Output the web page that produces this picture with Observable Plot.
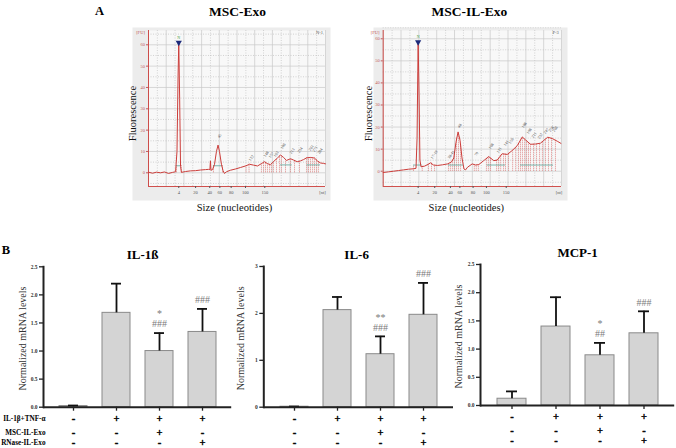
<!DOCTYPE html>
<html><head><meta charset="utf-8">
<script src="https://cdn.jsdelivr.net/npm/d3@7"></script>
<script src="https://cdn.jsdelivr.net/npm/@observablehq/plot@0.6"></script>
<style>
body{margin:0;background:#fff;}
#fig{position:relative;width:676px;height:448px;overflow:hidden;background:#fff;}
.panel{position:absolute;}
.panel svg{overflow:visible;display:block;}
</style></head><body><div id="fig"></div>
<script>
// ---------- Panel A: electropherograms ----------
const ladderLabels = ["4","20","40","60","80","100","150"];
const ladderTimeExo = [17.1, 26.6, 34.6, 40.3, 46.7, 54.8, 65.7];
const ladderTimeIL  = [19.6, 28.9, 37.7, 43.0, 50.4, 57.9, 69.0];
const fuTicks = [0, 10, 20, 30, 40, 50, 60];

const timeExo = [0,2.3,4.5,6.8,9,11.3,13.6,15.3,16.1,16.7,17.1,17.6,18.1,18.6,20.9,23.7,26.6,29.4,32.2,33.9,34.7,35,35.3,36.2,37.3,38.4,39.3,40.1,41.2,42.1,42.9,44.1,46.3,49.2,52,54.8,57.1,59.3,61.6,63.8,65.5,67.2,68.9,70.6,72.9,74.6,76.3,78,80.2,81.9,84,85.9,87.6,89.3,91.5,93.8,95.5,97.2,98.9,100];
const fuExo   = [0.3,-0.2,0.3,0,0.4,-0.3,0.2,0.5,10,45,61,35,3,0.2,0.6,0.9,1,1.3,1.5,1.6,1.5,5.6,1.2,1.5,4,10,13,10,4,1,-0.3,0.5,1.2,1.8,2.5,3.2,4,3.6,3.2,4.3,5.2,4.3,3.8,5.2,7,8.3,7.2,5.8,6.6,6,5.2,5.6,6.2,7,7.2,6.9,5.5,4.6,4.4,4.2];

const timeIL = [0,3,5.8,8.6,11.4,14.2,17,18.4,19,19.4,19.6,20.1,20.6,21.2,23.2,25.4,26.5,28.2,30.5,33.3,36.1,38.3,39.6,40.8,42,43.1,44.2,45.3,46.2,47.3,49.9,51.8,53.6,56.4,59.2,62,63.9,66.7,69.6,72.4,75.2,78,79.8,82.6,85.4,88.2,90.1,92.3,94.8,97.6,99.7];
const fuIL   = [-0.6,-0.3,0,0.3,0.6,0.9,1.1,1.3,15,45,58.5,35,5,2,2.3,3.2,3.8,2.8,2.6,2.9,3.3,4.2,6,13,17.8,14,6,1,0.6,1.8,3.3,2.8,3,4.8,6.6,4.8,5,7.9,7.6,9.4,11.6,15.5,14.2,12.2,12.3,12.7,14,15.4,14.8,13.6,12.6];

// peak-area boundary lines (time, top fluorescence)
const areaTimeExo = [15.8,18.6,36.7,41.8,55.1,56.8,63.8,65.0,66.1,67.2,68.4,69.5,70.6,72.3,74.0,75.1,77.4,80.2,82.5,85.3,89.3,90.4,91.5,92.7,93.8,94.9,96.0];
const areaTopExo  = [3.3,3.3,3.3,3.3,3.2,4,4.3,5,4.9,4.3,3.9,4.5,5.2,6.5,8,8,6,6.6,5.8,5.3,7,7.1,7.2,7.1,6.9,6.2,5.2];
const areaTimeIL = [17,21.9,25.4,27.1,28.8,36.6,37.7,38.8,39.9,41.1,42.2,43.4,51.1,52.2,53.4,57.9,59.0,60.2,63.6,64.7,65.9,67.5,68.6,70.3,72.6,74.3,75.9,77.0,78.1,79.3,80.4,81.5,82.6,84.3,86.0,87.7,89.3,91.0,92.7,94.4,96.6];
const areaTopIL  = [2.6,2.6,3.2,3.8,2.8,3.3,3.8,5,9,15,17,12,3,2.9,3,5.8,6.6,6,5,6,7.3,7.9,7.7,8.2,9.5,10.8,12.5,14.5,15.5,14.7,13.8,13,12.2,12.2,12.4,12.6,13.5,14.6,15.4,15,14];
// baseline segments [start, end, level]
const baseStartExo = [15.8, 36.7, 74.6, 89.5], baseEndExo = [18.6, 41.8, 81.2, 97.2], baseLevelExo = [3.3, 3.3, 3.7, 3.7];
const baseStartIL = [17, 36.6, 58.3, 77], baseEndIL = [21.9, 45, 68.6, 95.5], baseLevelIL = [2.8, 2.8, 2.8, 2.8];
// peak size labels
const peakTextExo = ["45","122","148","157","163","186","213","234","261","271","284"];
const peakTimeExo = [39.5,57.1,65.5,68.4,71.2,75.1,80.2,84.7,91.0,93.2,96.0];
const peakFuExo   = [16.5,5.8,7.6,7.2,7.6,11.4,9.0,9.5,10.5,10.0,9.0];
const peakTextIL = ["17-19","38-41","48","79","108","121","141","156","188","198","211","232","247","258","266"];
const peakTimeIL = [27.1,36.6,42.2,51.7,59.6,64.1,68.0,70.8,78.1,80.9,83.7,87.1,90.5,93.3,95.5];
const peakFuIL   = [5.8,5.8,19.8,7.1,10.3,8.5,11.6,12.6,19.8,17.1,15.3,14.8,17.1,18,18];

// ---------- Panel B: qPCR bars ----------
const groups = ["Control", "IL-1β+TNF-α", "+MSC-IL-Exo", "+RNase-IL-Exo"];
const il1bMean = [0.02, 1.68, 1.00, 1.34], il1bSD = [0.01, 0.52, 0.32, 0.41];
const il6Mean  = [0.01, 2.07, 1.13, 1.97], il6SD  = [0.005, 0.28, 0.38, 0.68];
const mcp1Mean = [0.12, 1.40, 0.89, 1.28], mcp1SD = [0.13, 0.52, 0.22, 0.39];
const il1bStar = ["", "", "*", ""],  il1bHash = ["", "", "###", "###"];
const il6Star  = ["", "", "**", ""], il6Hash  = ["", "", "###", "###"];
const mcp1Star = ["", "", "*", ""],  mcp1Hash = ["", "", "##", "###"];
const rowLabels = ["IL-1β+TNF-α", "MSC-IL-Exo", "RNase-IL-Exo"];
const treatTNF   = ["-", "+", "+", "+"];
const treatMSC   = ["-", "-", "+", "-"];
const treatRNase = ["-", "-", "-", "+"];
const ticks25 = [0, 0.5, 1.0, 1.5, 2.0, 2.5];
const ticks3 = [0, 1, 2, 3];

const SERIF = "'Liberation Serif','Times New Roman',serif";
const C = {textAnchor: "middle", lineAnchor: "middle"};
const fig = document.getElementById("fig");
function place(node, left, top, width) {
  const d = document.createElement("div");
  d.className = "panel";
  d.style.left = left + "px"; d.style.top = top + "px"; d.style.width = width + "px";
  d.appendChild(node); fig.appendChild(d);
}

function electro(o) {
  const red = "#cc3d3a";
  const trace = o.time.map((t, i) => ({t, fu: o.fu[i]}));
  const ladder = new Map(o.ladder.map((t, i) => [t, ladderLabels[i]]));
  const areas = o.areaTime.map((t, i) => ({t, top: o.areaTop[i]}));
  const bases = o.baseStart.map((s, i) => ({s, e: o.baseEnd[i], v: o.baseLevel[i]}));
  const labels = o.peakText.map((s, i) => ({s, t: o.peakTime[i], fu: o.peakFu[i]}));
  const y0 = o.yDomain[0];
  return Plot.plot({
    width: o.width, height: 220,
    marginLeft: o.marginLeft, marginRight: o.marginRight, marginTop: 30, marginBottom: 34,
    x: {domain: [0, 100]}, y: {domain: o.yDomain},
    style: {fontFamily: SERIF, background: "transparent", overflow: "visible"},
    marks: [
      Plot.frame({fill: "#ececec", stroke: "none", insetLeft: o.inset[0], insetRight: o.inset[1], insetTop: -3, insetBottom: -14}),
      Plot.frame({fill: "#f8f8f8", stroke: "none"}),
      Plot.gridX({ticks: d3.range(5, 100, 10), stroke: "#b8b8b8", strokeOpacity: 1, strokeDasharray: "1,1.5", strokeWidth: 0.6}),
      Plot.gridX({ticks: d3.range(0, 101, 10), stroke: "#c8c8c8", strokeOpacity: 1, strokeWidth: 0.7}),
      Plot.gridY({ticks: d3.range(-5, 66, 10), stroke: "#b8b8b8", strokeOpacity: 1, strokeDasharray: "1,1.5", strokeWidth: 0.6}),
      Plot.gridY({ticks: fuTicks, stroke: "#c8c8c8", strokeOpacity: 1, strokeWidth: 0.7}),
      Plot.ruleX(areas, {x: "t", y1: 0, y2: "top", stroke: red, strokeWidth: 0.6, strokeDasharray: "1,1"}),
      Plot.ruleY(bases, {y: "v", x1: "s", x2: "e", stroke: "#59a79c", strokeWidth: 0.8}),
      Plot.line(trace, {x: "t", y: "fu", stroke: red, strokeWidth: 1}),
      Plot.text(labels, {x: "t", y: "fu", text: "s", rotate: -55, fontSize: 4, fill: "#444", textAnchor: "start"}),
      Plot.dot([o.peak], {x: "t", y: "fu", symbol: "triangle", rotate: 180, r: 2.3, fill: "#1c2a7a", stroke: "none"}),
      Plot.text([o.peak], {x: "t", y: "fu", text: () => "N", dy: -5, fontSize: 4, fill: "#3a9a3a"}),
      Plot.ruleX([0], {stroke: red, strokeWidth: 0.9}),
      Plot.ruleY([y0], {stroke: red, strokeWidth: 0.9}),
      Plot.axisY({ticks: fuTicks, tickSize: 2, tickPadding: 1.5, fontSize: 4.5, color: "#c45a5a", label: null}),
      Plot.axisX({ticks: o.ladder, tickFormat: d => ladder.get(d), tickSize: 2, tickPadding: 2, fontSize: 4.5, color: "#555", label: null}),
      Plot.text([{t: o.ntPos, s: "[nt]"}], {x: "t", y: () => y0, text: "s", dy: 6, fontSize: 4.5, fill: "#555"}),
      Plot.text(["[FU]"], {...C, frameAnchor: "top-left", dx: -8, dy: 2, fontSize: 4.5, fill: "#c45a5a"}),
      Plot.text([o.tag], {...C, frameAnchor: "top-right", dx: -6, dy: 2, fontSize: 4.5, fill: "#555"}),
      Plot.text([o.title], {...C, frameAnchor: "top", dy: -19, dx: o.titleDx, fontSize: 13.5, fontWeight: "bold", fill: "#000"}),
      Plot.text(["Size (nucleotides)"], {...C, frameAnchor: "bottom", dy: 21, dx: o.titleDx - 3, fontSize: 10.5, fill: "#111"}),
      Plot.text(["Fluorescence"], {...C, frameAnchor: "left", rotate: -90, dx: o.fluoDx, dy: 5, fontSize: 10.5, fill: "#111"}),
      ...(o.letter ? [Plot.text([o.letter], {...C, frameAnchor: "top-left", dx: -49, dy: -20, fontSize: 12.5, fontWeight: "bold", fill: "#000"})] : [])
    ]
  });
}

place(electro({
  width: 250, marginLeft: 58, marginRight: 15, yDomain: [-6.42, 66.7], inset: [-16, -5],
  time: timeExo, fu: fuExo, ladder: ladderTimeExo, ntPos: 98.3,
  areaTime: areaTimeExo, areaTop: areaTopExo,
  baseStart: baseStartExo, baseEnd: baseEndExo, baseLevel: baseLevelExo,
  peakText: peakTextExo, peakTime: peakTimeExo, peakFu: peakFuExo,
  peak: {t: 17.1, fu: 61}, tag: "N-1", title: "MSC-Exo", titleDx: 0.5, fluoDx: -16.3, letter: "A"
}), 90, 0, 250);

place(electro({
  width: 260, marginLeft: 42.7, marginRight: 39, yDomain: [-6.93, 63.75], inset: [-9.7, -6],
  time: timeIL, fu: fuIL, ladder: ladderTimeIL, ntPos: 98.6,
  areaTime: areaTimeIL, areaTop: areaTopIL,
  baseStart: baseStartIL, baseEnd: baseEndIL, baseLevel: baseLevelIL,
  peakText: peakTextIL, peakTime: peakTimeIL, peakFu: peakFuIL,
  peak: {t: 19.6, fu: 58.5}, tag: "P-3", title: "MSC-IL-Exo", titleDx: -3, fluoDx: -14.4
}), 340, 0, 260);

function barChart(o) {
  const data = groups.map((g, i) => ({
    g, mean: o.mean[i], upper: o.mean[i] + o.sd[i], star: o.star[i], hash: o.hash[i],
    tnf: treatTNF[i], msc: treatMSC[i], rn: treatRNase[i]
  }));
  const rowDy = [11.5, 25, 35.3];
  const rowKeys = ["tnf", "msc", "rn"];
  const marks = [
    Plot.barY(data, {x: "g", y: "mean", fill: "#d4d4d4", stroke: "#8a8a8a", strokeWidth: 1}),
    Plot.ruleX(data, {x: "g", y1: "mean", y2: "upper", stroke: "#111", strokeWidth: 1.8}),
    Plot.tickY(data, {x: "g", y: "upper", stroke: "#111", strokeWidth: 1.8, insetLeft: 9, insetRight: 9}),
    Plot.frame({anchor: "left", stroke: "#222", strokeWidth: 2}),
    Plot.ruleY([0], {stroke: "#222", strokeWidth: 2}),
    Plot.axisY({ticks: o.yTicks, tickFormat: o.yFormat, tickSize: 4, tickPadding: 2, fontSize: 5.5, fontWeight: "bold", fill: "#333", stroke: "#222", strokeWidth: 1.3, label: null}),
    Plot.axisX({tickSize: 4, tickFormat: () => "", stroke: "#222", strokeWidth: 1.3, label: null}),
    Plot.text([o.title], {...C, frameAnchor: "top", dy: -12, dx: o.titleDx, fontSize: 13, fontWeight: "bold", fill: "#000"}),
    Plot.text(["Normalized mRNA levels"], {...C, frameAnchor: "left", rotate: -90, dx: o.ylabDx, dy: 1.5, fontSize: 10, fill: "#333"}),
    Plot.text(data, {x: "g", y: "upper", text: "hash", dy: -9, fontSize: 10, fill: "#7a7a7a"}),
    Plot.text(data, {x: "g", y: "upper", text: "star", dy: -19, fontSize: 10, fill: "#7a7a7a"}),
    ...rowKeys.map((k, r) => Plot.text(data, {x: "g", y: () => 0, text: k, dy: rowDy[r], fontSize: 10.5, fontWeight: "bold", fill: "#000", stroke: "#000", strokeWidth: 0.4}))
  ];
  if (o.rows) {
    marks.push(...rowLabels.map((s, r) => Plot.text([s], {frameAnchor: "left", y: () => 0, dy: rowDy[r], dx: 2, textAnchor: "end", lineAnchor: "middle", fontSize: 7.2, fontWeight: "bold", fill: "#000"})));
    marks.push(Plot.text(["B"], {...C, frameAnchor: "top-left", dx: -37.5, dy: -17.3, fontSize: 12.5, fontWeight: "bold", fill: "#000"}));
  }
  return Plot.plot({
    width: o.width, height: 448 - 240,
    marginLeft: o.marginLeft, marginRight: o.marginRight, marginTop: o.marginTop, marginBottom: o.marginBottom,
    x: {domain: groups, padding: 0.35},
    y: {domain: o.yDomain},
    style: {fontFamily: SERIF, background: "transparent", overflow: "visible"},
    marks
  });
}

const f1 = d3.format(".1f"), f0 = d3.format("d");
place(barChart({
  width: 236, marginLeft: 43, marginRight: 4.8, marginTop: 26.3, marginBottom: 41.3,
  title: "IL-1ß", titleDx: 5, ylabDx: -21, mean: il1bMean, sd: il1bSD, star: il1bStar, hash: il1bHash,
  yDomain: [0, 2.5], yTicks: ticks25, yFormat: f1, rows: true
}), 0, 240, 236);
place(barChart({
  width: 218, marginLeft: 27.3, marginRight: 1, marginTop: 26, marginBottom: 41.3,
  title: "IL-6", titleDx: -2, ylabDx: -23, mean: il6Mean, sd: il6SD, star: il6Star, hash: il6Hash,
  yDomain: [0, 3], yTicks: ticks3, yFormat: f0, rows: false
}), 236, 240, 218);
place(barChart({
  width: 222, marginLeft: 26, marginRight: 1.8, marginTop: 24, marginBottom: 43,
  title: "MCP-1", titleDx: 0, ylabDx: -21.7, mean: mcp1Mean, sd: mcp1SD, star: mcp1Star, hash: mcp1Hash,
  yDomain: [0, 2.5], yTicks: ticks25, yFormat: f1, rows: false
}), 454, 240, 222);
</script></body></html>
